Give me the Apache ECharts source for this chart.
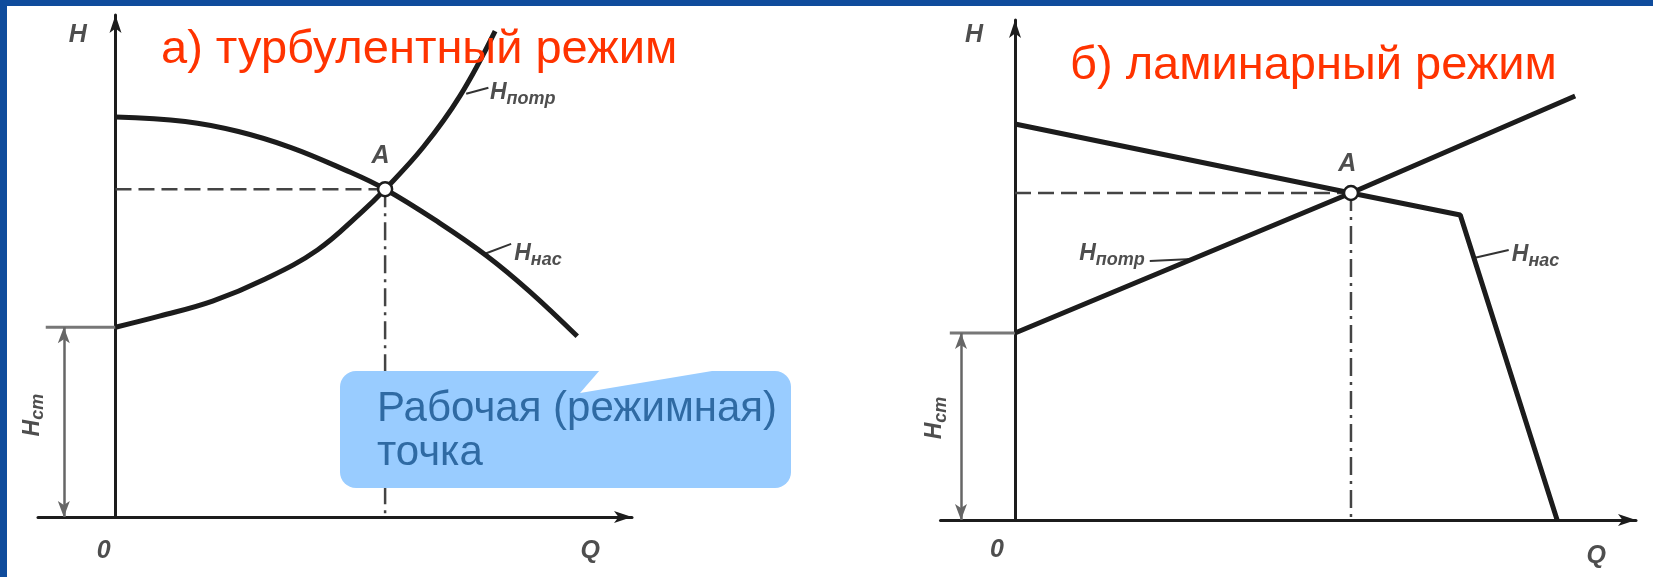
<!DOCTYPE html>
<html>
<head>
<meta charset="utf-8">
<script src="https://cdn.jsdelivr.net/npm/echarts@6/dist/echarts.min.js"></script>
<style>
  html, body { margin: 0; padding: 0; background: #fff; }
  #main { width: 1653px; height: 577px; }
</style>
</head>
<body>
<div id="main"></div>
<script>
/* а) турбулентный режим : [Q, H] */
var pumpTurb = [[0, 7.97], [1.35, 7.88], [2.38, 7.68], [3.40, 7.36], [4.43, 6.92], [5.22, 6.53], [6.27, 5.86], [7.19, 5.20], [8.01, 4.50], [8.94, 3.60]];
var needTurb = [[0, 3.78], [0.85, 4.00], [1.88, 4.30], [2.90, 4.74], [3.91, 5.32], [4.74, 6.05], [5.22, 6.53], [5.96, 7.37], [6.67, 8.39], [7.35, 9.68]];
var pointTurb = [5.22, 6.53];
var hstTurb = 3.78;

/* б) ламинарный режим */
var pumpLam = [[0, 7.92], [5.41, 6.54], [7.17, 6.10], [8.73, 0]];
var needLam = [[0, 3.74], [5.41, 6.54], [9.02, 8.48]];
var pointLam = [5.41, 6.54];
var hstLam = 3.74;

/* подписи: [текст, Q, H, выравнивание, поворот] */
var textTurb = [
  ['{i|H}', -0.73, 9.60, 'center', 0],
  ['{i|0}', -0.23, -0.68, 'center', 0],
  ['{i|Q}', 9.19, -0.68, 'center', 0],
  ['{i|A}', 5.13, 7.19, 'center', 0],
  ['{h|H}{s|потр}', 7.25, 8.45, 'left', 0],
  ['{h|H}{s|нас}', 7.72, 5.24, 'left', 0],
  ['{h|H}{s|ст}', -1.61, 2.03, 'center', 90]
];
var textLam = [
  ['{i|H}', -0.66, 9.70, 'center', 0],
  ['{i|0}', -0.29, -0.60, 'center', 0],
  ['{i|Q}', 9.36, -0.72, 'center', 0],
  ['{i|A}', 5.35, 7.12, 'center', 0],
  ['{h|H}{s|потр}', 2.09, 5.32, 'right', 0],
  ['{h|H}{s|нас}', 8.00, 5.30, 'left', 0],
  ['{h|H}{s|ст}', -1.29, 2.04, 'center', 90]
];
var leadTurb = [[[6.79, 8.43], [7.22, 8.55]], [[7.14, 5.24], [7.66, 5.44]]];
var leadLam = [[[2.17, 5.18], [2.85, 5.22]], [[7.39, 5.24], [7.95, 5.40]]];

var titles = ['а) турбулентный режим', 'б) ламинарный режим'];
var calloutText = ['Рабочая (режимная)', 'точка'];

var ink = '#1c1c1c';

function axisX(i, min) {
  return {
    gridIndex: i, type: 'value', min: min, max: 10,
    axisLine: { onZero: true, symbol: ['none', 'arrow'], symbolSize: [9, 18], lineStyle: { color: ink, width: 3 } },
    axisTick: { show: false }, axisLabel: { show: false }, splitLine: { show: false }
  };
}
function axisY(i) {
  return {
    gridIndex: i, type: 'value', min: 0, max: 10,
    axisLine: { onZero: true, symbol: ['none', 'arrow'], symbolSize: [9, 18], lineStyle: { color: ink, width: 3 } },
    axisTick: { show: false }, axisLabel: { show: false }, splitLine: { show: false }
  };
}

function panel(i, pump, need, pt, hst, xmin, arrowX, texts, leads, smooth) {
  var s = [];
  s.push({ type: 'line', xAxisIndex: i, yAxisIndex: i, data: pump, smooth: smooth, showSymbol: false,
    lineStyle: { color: ink, width: 5 }, z: 3 });
  s.push({ type: 'line', xAxisIndex: i, yAxisIndex: i, data: need, smooth: smooth, showSymbol: false,
    lineStyle: { color: ink, width: 5 }, z: 3 });
  // пунктир к точке A
  s.push({ type: 'line', xAxisIndex: i, yAxisIndex: i, data: [[0, pt[1]], pt], showSymbol: false,
    lineStyle: { color: '#444', width: 2.5, type: [16, 7] }, z: 2 });
  s.push({ type: 'line', xAxisIndex: i, yAxisIndex: i, data: [pt, [pt[0], 0]], showSymbol: false,
    lineStyle: { color: '#444', width: 2.5, type: [18, 6, 3, 6] }, z: 2 });
  // Hст
  s.push({ type: 'line', xAxisIndex: i, yAxisIndex: i, data: [[xmin + 0.15, hst], [0, hst]], showSymbol: false,
    clip: false, lineStyle: { color: '#777', width: 3 }, z: 2,
    markLine: { silent: true, symbol: ['arrow', 'arrow'], symbolSize: [9, 16], label: { show: false },
      lineStyle: { color: '#666', width: 2.5, type: 'solid' },
      data: [[{ coord: [arrowX, 0] }, { coord: [arrowX, hst] }]] } });
  leads.forEach(function (l) {
    s.push({ type: 'line', xAxisIndex: i, yAxisIndex: i, data: l, showSymbol: false,
      lineStyle: { color: '#333', width: 2 }, z: 2 });
  });
  s.push({ type: 'scatter', xAxisIndex: i, yAxisIndex: i, data: [pt], symbolSize: 14,
    itemStyle: { color: '#fff', borderColor: ink, borderWidth: 2.5, opacity: 1 }, z: 5 });
  s.push({ type: 'scatter', xAxisIndex: i, yAxisIndex: i, clip: false, symbolSize: 0, z: 6,
    data: texts.map(function (t) {
      return { name: t[0], value: [t[1], t[2]],
        label: { align: t[3], rotate: t[4] } };
    }),
    label: { show: true, position: 'inside', verticalAlign: 'middle',
      formatter: function (p) { return p.name; },
      rich: {
        i: { fontFamily: 'Liberation Sans', fontStyle: 'italic', fontWeight: 'bold', fontSize: 25, color: '#222' },
        h: { fontFamily: 'Liberation Sans', fontStyle: 'italic', fontWeight: 'bold', fontSize: 23, color: '#222' },
        s: { fontFamily: 'Liberation Sans', fontStyle: 'italic', fontWeight: 'bold', fontSize: 18, color: '#222', padding: [12, 0, 0, 0] }
      } }
  });
  return s;
}

var chart = echarts.init(document.getElementById('main'), null, { renderer: 'canvas' });
var option = {
  animation: false,
  backgroundColor: '#fff',
  grid: [
    { left: 38, top: 15, width: 594, height: 502 },
    { left: 940.5, top: 20, width: 695.5, height: 500 }
  ],
  xAxis: [axisX(0, -1.5), axisX(1, -1.2)],
  yAxis: [axisY(0), axisY(1)],
  series: [].concat(
    panel(0, pumpTurb, needTurb, pointTurb, hstTurb, -1.5, -1.0, textTurb, leadTurb, 0.4),
    panel(1, pumpLam, needLam, pointLam, hstLam, -1.2, -0.87, textLam, leadLam, false)
  ),
  graphic: [
    { type: 'rect', left: 0, top: 0, shape: { width: 1653, height: 6 }, style: { fill: '#0f4c9c' }, z: 100 },
    { type: 'rect', left: 0, top: 0, shape: { width: 7, height: 577 }, style: { fill: '#0f4c9c' }, z: 100 },
    { type: 'text', left: 161, top: 27, z: 50,
      style: { text: titles[0], font: '47px "Liberation Sans"', fill: '#ff3300' } },
    { type: 'text', left: 1070, top: 43, z: 50,
      style: { text: titles[1], font: '47px "Liberation Sans"', fill: '#ff3300' } },
    { type: 'rect', left: 340, top: 371, z: 60,
      shape: { width: 451, height: 117, r: 16 }, style: { fill: '#99ccff' } },
    { type: 'polygon', z: 61, shape: { points: [[600, 370], [580, 393], [718, 370]] }, style: { fill: '#fff' } },
    { type: 'text', left: 377, top: 388, z: 62,
      style: { text: calloutText[0], font: '42px "Liberation Sans"', fill: '#2f6aa3' } },
    { type: 'text', left: 377, top: 432, z: 62,
      style: { text: calloutText[1], font: '42px "Liberation Sans"', fill: '#2f6aa3' } }
  ]
};
chart.setOption(option);
</script>
</body>
</html>
